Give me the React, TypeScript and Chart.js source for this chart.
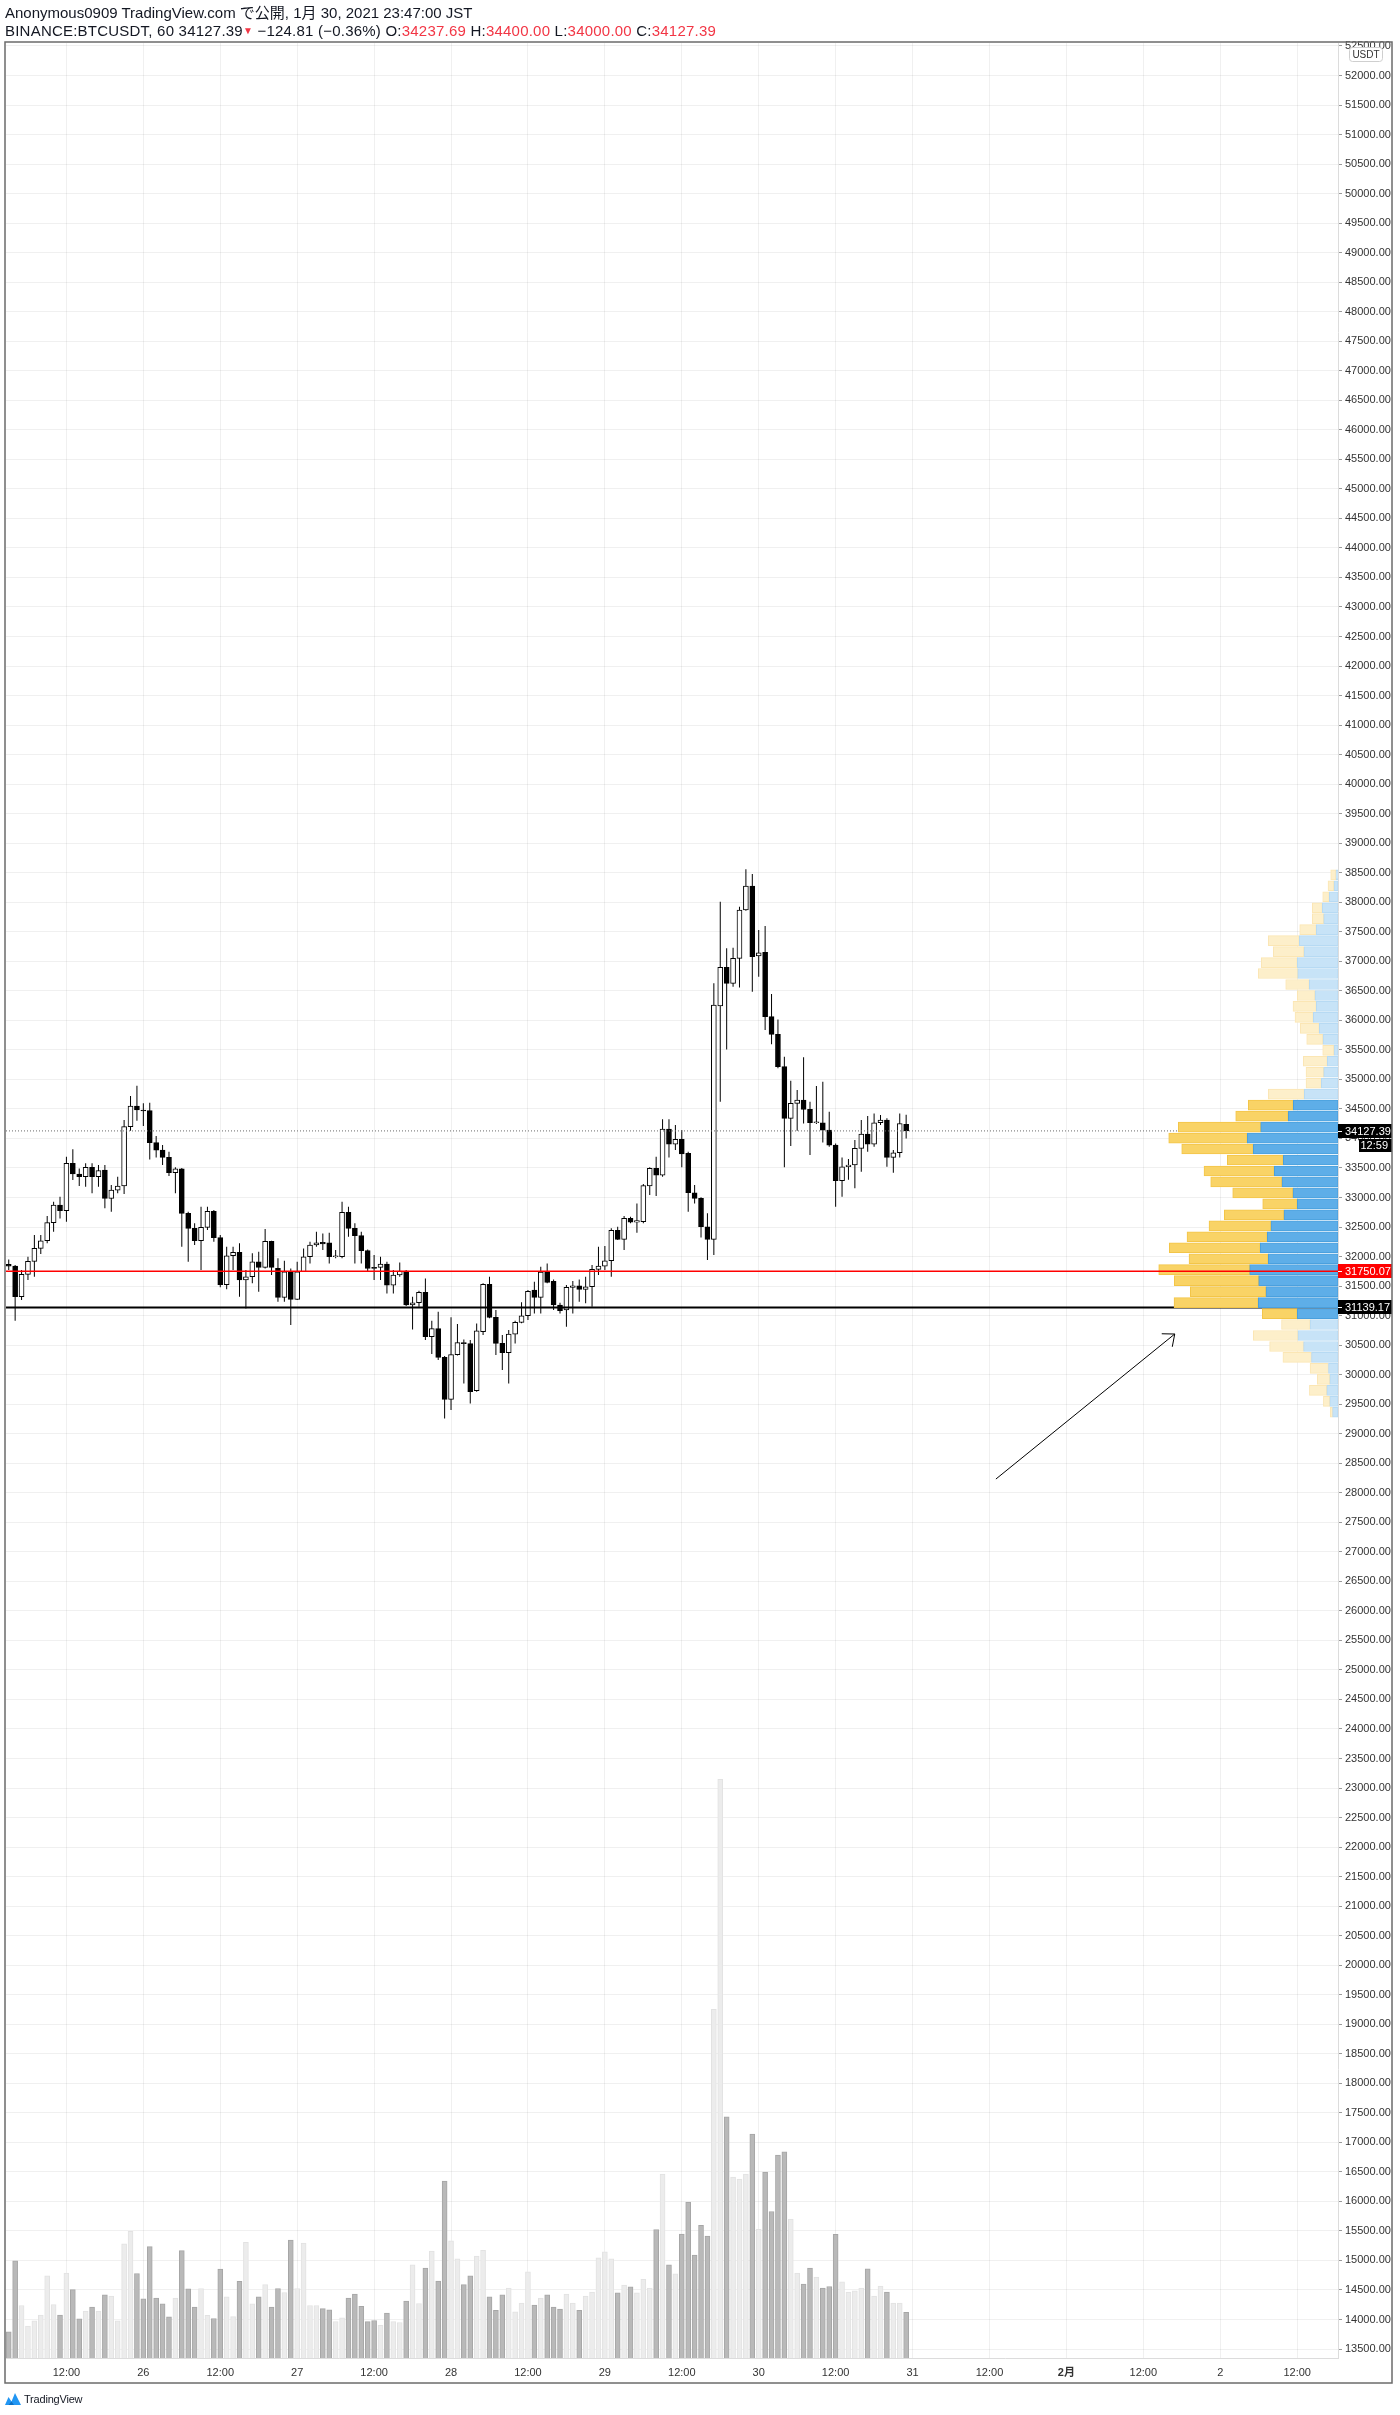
import React, { useEffect, useRef } from 'react';
import { Chart, registerables } from 'chart.js';

Chart.register(...registerables);

const FONT = "'Liberation Sans', 'Noto Sans CJK JP', Arial, sans-serif";

// ---------------- data ----------------
// hours counted from 2021-01-25 00:00 JST; first visible candle is 03:00
const FIRST_HOUR = 3;

const opens = [
  31867, 31839, 31320, 31698, 31918, 32138, 32268, 32573, 32872, 32776,
  33578, 33397, 33352, 33510, 33352, 33465, 32985, 33126, 33194, 34199,
  34549, 34481, 34470, 33928, 33803, 33679, 33420, 33487, 32731, 32477,
  32268, 32494, 32765, 32319, 31523, 32014, 32071, 31602, 31658, 31912,
  31816, 32256, 31799, 31308, 31743, 31275, 31743, 31997, 32195, 32240,
  32234, 31997, 31997, 32748, 32477, 32353, 32099, 31816, 31816, 31873,
  31517, 31687, 31754, 31179, 31218, 31393, 30642, 30778, 30292, 29581,
  30338, 30541, 30524, 29728, 30727, 31529, 30970, 30529, 30371, 30687,
  30885, 30998, 31433, 31308, 31737, 31579, 31179, 31094, 31478, 31506,
  31444, 31489, 31783, 31839, 31929, 32443, 32291, 32646, 32584, 32590,
  33194, 33493, 33380, 34159, 33905, 33984, 33747, 33081, 32985, 32505,
  32291, 36242, 36897, 36626, 37049, 37868, 38274, 37089, 37151, 36062,
  35762, 35215, 34340, 34594, 34650, 34492, 34266, 34266, 34142, 33888,
  33284, 33521, 33550, 33832, 34074, 33905, 34266, 34311, 33679, 33758,
  34237.69,
];
const highs = [
  31952, 31856, 31771, 31997, 32364, 32364, 32686, 32928, 33013, 33691,
  33815, 33493, 33578, 33578, 33550, 33550, 33211, 33352, 34312, 34718,
  34893, 34594, 34605, 34041, 33888, 33775, 33510, 33499, 32759, 32562,
  32844, 32844, 32787, 32364, 32166, 32166, 32223, 31771, 32054, 32082,
  32466, 32268, 31969, 31929, 31799, 31912, 32138, 32251, 32420, 32392,
  32404, 32110, 32928, 32844, 32562, 32420, 32121, 32025, 31997, 31912,
  31771, 31901, 31771, 31320, 31421, 31630, 30913, 31066, 30315, 30970,
  30857, 30597, 30586, 30868, 31546, 31658, 31094, 30670, 30755, 30913,
  31224, 31433, 31574, 31828, 31884, 31613, 31218, 31517, 31585, 31613,
  31658, 31856, 32166, 32178, 32477, 32505, 32686, 32674, 32900, 33228,
  33510, 33691, 34323, 34323, 34227, 34142, 33775, 33211, 33002, 32731,
  36626, 38009, 37219, 37230, 37924, 38557, 38478, 37529, 37597, 36445,
  36016, 35384, 34978, 34820, 35373, 34622, 34887, 34961, 34453, 33916,
  33679, 33650, 33973, 34312, 34379, 34424, 34396, 34340, 33803, 34424,
  34400.0,
];
const lows = [
  31771, 30913, 31263, 31602, 31658, 32042, 32223, 32420, 32646, 32590,
  33295, 33194, 33183, 33070, 33183, 32816, 32759, 33070, 33058, 34131,
  34300, 34210, 33645, 33679, 33550, 33363, 33070, 32166, 31912, 32195,
  31771, 32449, 32251, 31478, 31444, 31771, 31320, 31122, 31546, 31404,
  31799, 31687, 31235, 31235, 30840, 31263, 31743, 31884, 32166, 32110,
  31884, 31969, 31969, 32336, 31884, 31884, 31743, 31602, 31602, 31376,
  31376, 31658, 31162, 30766, 31150, 30586, 30349, 30247, 29259, 29400,
  30326, 29852, 29513, 29711, 30671, 30953, 30332, 30078, 29852, 30529,
  30870, 30925, 31037, 31037, 31546, 31094, 31037, 30812, 31037, 31235,
  31207, 31150, 31687, 31771, 31658, 32279, 32110, 32562, 32404, 32562,
  33042, 33025, 33352, 33679, 33803, 33510, 32759, 32900, 32324, 31941,
  32025, 34622, 35508, 36570, 36558, 37857, 36485, 36739, 35836, 35593,
  35187, 33510, 33871, 34131, 34255, 33719, 34244, 33933, 33860, 32844,
  33013, 33300, 33155, 33437, 33775, 33860, 34227, 33521, 33420, 33679,
  34000.0,
];
const closes = [
  31837, 31320, 31698, 31918, 32138, 32268, 32573, 32872, 32776, 33578,
  33397, 33352, 33510, 33352, 33454, 32985, 33126, 33194, 34199, 34549,
  34481, 34464, 33928, 33803, 33679, 33420, 33487, 32731, 32477, 32268,
  32494, 32765, 32319, 31523, 32014, 32071, 31602, 31658, 31912, 31816,
  32256, 31816, 31308, 31743, 31275, 31743, 31997, 32195, 32234, 32215,
  31997, 32008, 32748, 32477, 32353, 32099, 31799, 31799, 31873, 31517,
  31687, 31754, 31179, 31218, 31393, 30642, 30778, 30292, 29581, 30338,
  30541, 30524, 29711, 30744, 31529, 30970, 30529, 30371, 30687, 30885,
  30998, 31410, 31308, 31737, 31562, 31179, 31083, 31478, 31506, 31444,
  31489, 31783, 31839, 31929, 32443, 32291, 32646, 32584, 32607, 33200,
  33493, 33380, 34159, 33905, 33984, 33736, 33081, 32985, 32505, 32291,
  36259, 36897, 36626, 37049, 37868, 38274, 37078, 37145, 36062, 35762,
  35215, 34340, 34594, 34650, 34492, 34266, 34277, 34142, 33888, 33284,
  33521, 33550, 33832, 34074, 33905, 34266, 34311, 33679, 33758, 34252.2,
  34127.39,
];
const volumes = [
  660, 2460, 1330, 810, 940, 1090, 2080, 1350, 1090, 2150,
  1730, 990, 1190, 1290, 1190, 1600, 1570, 940, 2890, 3210,
  2140, 1500, 2820, 1520, 1370, 1040, 1520, 2720, 1750, 1290,
  1760, 1080, 1000, 2250, 1550, 1050, 1940, 2930, 1370, 1550,
  1860, 1290, 1760, 1660, 2990, 1760, 2910, 1330, 1330, 1250,
  1220, 920, 1020, 1520, 1620, 1310, 920, 950, 830, 1140,
  920, 900, 1440, 2360, 1380, 2280, 2710, 1950, 4480, 2970,
  2510, 1860, 2080, 2580, 2730, 1550, 1210, 1600, 1770, 1170,
  1390, 2180, 1340, 1520, 1600, 1290, 1240, 1620, 1390, 1210,
  1570, 1670, 2540, 2690, 2510, 1650, 1850, 1800, 1650, 1990,
  1770, 3250, 4660, 2360, 2130, 3140, 3950, 2610, 3360, 3090,
  8830, 14660, 6110, 4580, 4530, 4660, 5670, 3260, 4710, 3710,
  5140, 5220, 3520, 2150, 1870, 2280, 2050, 1770, 1810, 3130,
  1930, 1670, 1700, 1770, 2260, 1570, 1820, 1670, 1390, 1390,
  1160,
];

// time axis ticks (hours since Jan 25 00:00)
const xTickHours = [12, 24, 36, 48, 60, 72, 84, 96, 108, 120, 132, 144, 156, 168, 180, 192, 204];
const xTickLabels = ['12:00', '26', '12:00', '27', '12:00', '28', '12:00', '29', '12:00', '30', '12:00', '31', '12:00', '2月', '12:00', '2', '12:00'];
const xTickBold = [false, false, false, false, false, false, false, false, false, false, false, false, false, true, false, false, false];

// visible ranges
const HOUR_MIN = 2.574;
const HOUR_MAX = 210.37;
const PRICE_MIN = 13348;
const PRICE_MAX = 52550;
const PRICE_STEP = 500;

// visible range volume profile (rows top -> bottom)
const profileHigh = 38557;
const profileLow = 29270;
const profileUp = [
  20, 40, 87, 157, 143, 217, 387, 340, 407, 403,
  287, 230, 217, 247, 187, 150, 40, 107, 143, 167,
  337, 447, 497, 773, 907, 847, 547, 637, 560, 450,
  407, 540, 670, 707, 777, 697, 883, 793, 720, 797,
  407, 279, 401, 344, 265, 95, 82, 112, 82, 54,
];
const profileDown = [
  53, 60, 66, 100, 114, 166, 310, 307, 360, 394,
  236, 177, 233, 183, 190, 163, 113, 240, 177, 153,
  360, 450, 526, 824, 786, 716, 560, 703, 713, 603,
  346, 597, 620, 803, 910, 793, 910, 844, 757, 843,
  350, 286, 446, 340, 286, 184, 125, 174, 64, 24,
];
const valueAreaFirstRow = 21;
const valueAreaLastRow = 40;

// levels
const pocPrice = 31750.07;
const levelPrice = 31139.17;
const countdownText = '12:59';

// drawn arrow [hour, price]
const arrowFrom = [157.0, 28232];
const arrowTo = [184.9, 30688];

// ---------------- styles ----------------
const PROFILE_WIDTH_FRACTION = 0.1346;
const VOLUME_HEIGHT_FRACTION = 0.25;
const RED = '#f23645';

export default function App() {
  const ref = useRef<HTMLCanvasElement>(null);

  const n = opens.length;
  const last = n - 1;
  const chg = closes[last] - closes[last - 1];
  const pct = (chg / closes[last - 1]) * 100;
  const sign = chg < 0 ? '−' : '+';

  useEffect(() => {
    document.body.style.margin = '0';
    const hours = opens.map((_, i) => FIRST_HOUR + i);
    const isUp = opens.map((o, i) => closes[i] >= o);
    const rows = profileUp.length;
    const bin = (profileHigh - profileLow) / rows;
    const rowCenters = profileUp.map((_, k) => profileHigh - (k + 0.5) * bin);
    const inVA = (k: number) => k >= valueAreaFirstRow && k <= valueAreaLastRow;
    const maxTotal = Math.max(...profileUp.map((u, k) => u + profileDown[k]));
    const maxVol = Math.max(...volumes);
    // profile volume -> hours along the time axis, anchored at the right edge
    const hpu = ((HOUR_MAX - HOUR_MIN) * PROFILE_WIDTH_FRACTION) / maxTotal;

    const overlay = {
      id: 'tvOverlay',
      afterDraw(chart: any) {
        const { ctx, chartArea } = chart;
        const xs = chart.scales.x;
        const ys = chart.scales.y;
        ctx.save();
        // arrow
        const ax1 = xs.getPixelForValue(arrowFrom[0]);
        const ay1 = ys.getPixelForValue(arrowFrom[1]);
        const ax2 = xs.getPixelForValue(arrowTo[0]);
        const ay2 = ys.getPixelForValue(arrowTo[1]);
        const ang = Math.atan2(ay2 - ay1, ax2 - ax1);
        const hl = 13;
        const sp = 0.7;
        ctx.strokeStyle = '#000';
        ctx.lineWidth = 1;
        ctx.beginPath();
        ctx.moveTo(ax1, ay1);
        ctx.lineTo(ax2, ay2);
        ctx.moveTo(ax2 - hl * Math.cos(ang - sp), ay2 - hl * Math.sin(ang - sp));
        ctx.lineTo(ax2, ay2);
        ctx.lineTo(ax2 - hl * Math.cos(ang + sp), ay2 - hl * Math.sin(ang + sp));
        ctx.stroke();

        // axis badges
        const right = chartArea.right;
        const badgeW = 54;
        const badge = (text: string, price: number, bg: string) => {
          const yy = Math.round(ys.getPixelForValue(price));
          ctx.fillStyle = bg;
          ctx.fillRect(right, yy - 7, badgeW, 14);
          ctx.strokeStyle = '#fff';
          ctx.beginPath();
          ctx.moveTo(right, yy + 0.5);
          ctx.lineTo(right + 4, yy + 0.5);
          ctx.stroke();
          ctx.fillStyle = '#fff';
          ctx.font = `11px ${FONT}`;
          ctx.textAlign = 'left';
          ctx.textBaseline = 'middle';
          ctx.fillText(text, right + 7, yy + 0.5);
          return yy;
        };
        const yl = badge(closes[last].toFixed(2), closes[last], '#000');
        ctx.fillStyle = '#000';
        ctx.fillRect(right + 21, yl + 8, badgeW - 21, 13);
        ctx.fillStyle = '#fff';
        ctx.textAlign = 'right';
        ctx.fillText(countdownText, right + badgeW - 4, yl + 15);
        badge(pocPrice.toFixed(2), pocPrice, '#ff0000');
        badge(levelPrice.toFixed(2), levelPrice, '#000');

        // currency badge
        const bx = right + 11;
        const by = chartArea.top + 4;
        const bw = 33;
        const bh = 14;
        ctx.fillStyle = '#fff';
        ctx.strokeStyle = '#cfcfcf';
        ctx.beginPath();
        (ctx as any).roundRect(bx + 0.5, by + 0.5, bw, bh, 3);
        ctx.fill();
        ctx.stroke();
        ctx.fillStyle = '#333';
        ctx.font = `10px ${FONT}`;
        ctx.textAlign = 'center';
        ctx.fillText('USDT', bx + bw / 2 + 0.5, by + bh / 2 + 1);

        // outer frame
        ctx.strokeStyle = '#6b6b6b';
        ctx.lineWidth = 1.5;
        ctx.strokeRect(5, 42, 1387, 2341);
        ctx.restore();
      },
    };

    const chart = new Chart(ref.current as HTMLCanvasElement, {
      type: 'bar',
      data: {
        datasets: [
          {
            type: 'bar',
            label: 'volume',
            data: hours.map((h, i) => ({ x: h, y: volumes[i] })) as any,
            xAxisID: 'x',
            yAxisID: 'yVol',
            backgroundColor: isUp.map((u) => (u ? '#ececec' : '#b9b9b9')),
            borderColor: isUp.map((u) => (u ? '#e2e2e2' : '#a6a6a6')),
            borderWidth: 1,
            barThickness: 5,
            grouped: false,
            order: 6,
          },
          {
            type: 'bar',
            label: 'wick',
            data: hours.map((h, i) => ({ x: h, y: [lows[i], highs[i]] })) as any,
            xAxisID: 'x',
            yAxisID: 'y',
            backgroundColor: '#000',
            borderWidth: 0,
            barThickness: 1,
            inflateAmount: 0,
            grouped: false,
            order: 5,
          },
          {
            type: 'bar',
            label: 'body',
            data: hours.map((h, i) => ({ x: h, y: [opens[i], closes[i]] })) as any,
            xAxisID: 'x',
            yAxisID: 'y',
            backgroundColor: isUp.map((u) => (u ? '#ffffff' : '#000000')),
            borderColor: '#000',
            borderWidth: 1,
            borderSkipped: false,
            barThickness: 5,
            minBarLength: 1,
            grouped: false,
            order: 4,
          },
          {
            type: 'line',
            label: 'last',
            data: [
              { x: HOUR_MIN, y: closes[last] },
              { x: HOUR_MAX, y: closes[last] },
            ] as any,
            xAxisID: 'x',
            yAxisID: 'y',
            borderColor: '#6a6a6a',
            borderWidth: 1,
            borderDash: [1, 2],
            pointRadius: 0,
            fill: false,
            order: 3,
          },
          {
            type: 'line',
            label: 'level',
            data: [
              { x: HOUR_MIN, y: levelPrice },
              { x: HOUR_MAX, y: levelPrice },
            ] as any,
            xAxisID: 'x',
            yAxisID: 'y',
            borderColor: '#000',
            borderWidth: 2,
            pointRadius: 0,
            fill: false,
            order: 3,
          },
          {
            type: 'bar',
            label: 'profileUp',
            indexAxis: 'y',
            data: rowCenters.map((c, k) => ({ y: c, x: [HOUR_MAX - profileUp[k] * hpu, HOUR_MAX] })) as any,
            xAxisID: 'x',
            yAxisID: 'y',
            backgroundColor: rowCenters.map((_, k) => (inVA(k) ? '#5eaee8' : '#c7e3f7')),
            borderColor: rowCenters.map((_, k) => (inVA(k) ? '#4aa0de' : '#b7daf3')),
            borderWidth: 1,
            borderSkipped: false,
            barThickness: 10,
            grouped: false,
            order: 2,
          } as any,
          {
            type: 'bar',
            label: 'profileDown',
            indexAxis: 'y',
            data: rowCenters.map((c, k) => ({
              y: c,
              x: [HOUR_MAX - (profileUp[k] + profileDown[k]) * hpu, HOUR_MAX - profileUp[k] * hpu],
            })) as any,
            xAxisID: 'x',
            yAxisID: 'y',
            backgroundColor: rowCenters.map((_, k) => (inVA(k) ? '#f9d366' : '#fdefca')),
            borderColor: rowCenters.map((_, k) => (inVA(k) ? '#f3c548' : '#fbe6b4')),
            borderWidth: 1,
            borderSkipped: false,
            barThickness: 10,
            grouped: false,
            order: 2,
          } as any,
          {
            type: 'line',
            label: 'poc',
            data: [
              { x: HOUR_MIN, y: pocPrice },
              { x: HOUR_MAX, y: pocPrice },
            ] as any,
            xAxisID: 'x',
            yAxisID: 'y',
            borderColor: '#ff0000',
            borderWidth: 1.5,
            pointRadius: 0,
            fill: false,
            order: 1,
          },
        ],
      },
      options: {
        animation: false,
        responsive: false,
        devicePixelRatio: 1,
        events: [],
        layout: { padding: { left: 6, top: 43, right: 8, bottom: 32 } },
        plugins: { legend: { display: false }, tooltip: { enabled: false } },
        scales: {
          x: {
            type: 'linear',
            position: 'bottom',
            min: HOUR_MIN,
            max: HOUR_MAX,
            offset: false,
            afterBuildTicks: (axis: any) => {
              axis.ticks = xTickHours.map((v) => ({ value: v }));
            },
            afterFit: (axis: any) => {
              axis.height = 25;
            },
            ticks: {
              autoSkip: false,
              maxRotation: 0,
              padding: 8,
              color: '#333',
              font: (c: any) => {
                const idx = c.tick ? xTickHours.indexOf(c.tick.value) : -1;
                return { family: FONT, size: 11, weight: idx >= 0 && xTickBold[idx] ? 'bold' : 'normal' } as any;
              },
              callback: (v: any) => {
                const idx = xTickHours.indexOf(Number(v));
                return idx >= 0 ? xTickLabels[idx] : '';
              },
            },
            grid: { color: 'rgba(0,0,0,0.06)', drawTicks: false, offset: false },
            border: { color: '#dcdcdc' },
          } as any,
          y: {
            type: 'linear',
            position: 'right',
            min: PRICE_MIN,
            max: PRICE_MAX,
            offset: false,
            afterBuildTicks: (axis: any) => {
              const t: { value: number }[] = [];
              for (let v = Math.ceil(PRICE_MIN / PRICE_STEP) * PRICE_STEP; v <= PRICE_MAX; v += PRICE_STEP) t.push({ value: v });
              axis.ticks = t;
            },
            afterFit: (axis: any) => {
              axis.width = 54;
            },
            ticks: {
              autoSkip: false,
              padding: 3,
              color: '#333',
              font: { family: FONT, size: 11 },
              callback: (v: any) => Number(v).toFixed(2),
            },
            grid: { color: 'rgba(0,0,0,0.06)', tickColor: '#9a9a9a', tickLength: 4, offset: false },
            border: { color: '#dcdcdc' },
          } as any,
          yVol: {
            type: 'linear',
            axis: 'y',
            display: false,
            min: 0,
            max: maxVol / VOLUME_HEIGHT_FRACTION,
          } as any,
        },
      },
      plugins: [overlay],
    } as any);
    return () => chart.destroy();
  }, []);

  const red = { color: RED };
  const head = { position: 'absolute' as const, left: 5, fontSize: 15, lineHeight: '18px', color: '#131722', whiteSpace: 'nowrap' as const };
  return (
    <div
      style={{
        position: 'absolute',
        left: 0,
        top: 0,
        width: 1400,
        height: 2415,
        background: '#fff',
        overflow: 'hidden',
        fontFamily: FONT,
      }}
    >
      <canvas ref={ref} width={1400} height={2415} style={{ position: 'absolute', left: 0, top: 0, display: 'block' }} />
      <div style={{ ...head, top: 4 }}>Anonymous0909 TradingView.com で公開, 1月 30, 2021 23:47:00 JST</div>
      <div style={{ ...head, top: 22, letterSpacing: 0.22 }}>
        BINANCE:BTCUSDT, 60 {closes[last].toFixed(2)}
        <span style={{ color: RED, fontSize: 10, verticalAlign: 'top', position: 'relative', top: 0 }}>▼</span>{' '}
        {sign}
        {Math.abs(chg).toFixed(2)} ({sign}
        {Math.abs(pct).toFixed(2)}%) O:<span style={red}>{opens[last].toFixed(2)}</span> H:
        <span style={red}>{highs[last].toFixed(2)}</span> L:<span style={red}>{lows[last].toFixed(2)}</span> C:
        <span style={red}>{closes[last].toFixed(2)}</span>
      </div>
      <div style={{ position: 'absolute', left: 5, top: 2391, height: 16, display: 'flex', alignItems: 'center', whiteSpace: 'nowrap' }}>
        <svg width="16" height="14" viewBox="0 0 16 14">
          <path d="M0 13 L3.5 5 L6.5 9.5 L10 1 L16 13 Z" fill="#2196f3" />
          <path d="M3.5 13 L6.5 9.5 L9 13 Z" fill="#0d6fc4" />
        </svg>
        <span style={{ fontSize: 11, color: '#131722', marginLeft: 3, letterSpacing: -0.2 }}>TradingView</span>
      </div>
    </div>
  );
}
